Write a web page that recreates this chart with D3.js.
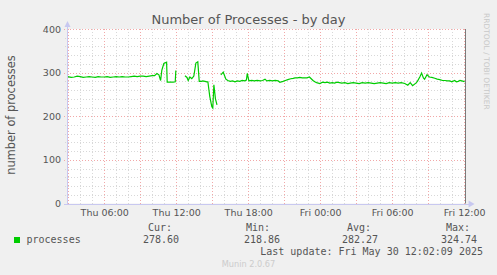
<!DOCTYPE html>
<html>
<head>
<meta charset="utf-8">
<script src="https://cdn.jsdelivr.net/npm/d3@7"></script>
<style>
  html, body { margin: 0; padding: 0; background: #f0f0f0; }
  svg { display: block; }
</style>
</head>
<body>
<div id="chart"></div>
<script>
// hours counted from Thu 29 May 00:00, null marks a gap (unknown)
const hours = [
  2.95, 3.25, 3.5, 3.75, 4, 4.25, 4.5, 4.75, 5, 5.25, 5.5, 5.75, 6, 6.25, 6.5, 6.75,
  7, 7.25, 7.5, 7.75, 8, 8.25, 8.5, 8.75, 9, 9.25, 9.5, 9.75, 10, 10.2, 10.39, 10.56,
  10.7, 10.8, 10.97, 11.2, 11.25, 11.5, 11.75, 11.92, 11.97, 12.05, 12.73, 12.9, 13.0,
  13.14, 13.3, 13.47, 13.64, 13.8, 13.92, 14.1, 14.22, 14.4, 14.55, 14.64, 14.72, 14.8,
  14.97, 15.05, 15.14, 15.27, 15.4, 15.5, 15.72, 15.92, 16.14, 16.3, 16.5, 16.7, 16.9,
  17.1, 17.3, 17.5, 17.7, 17.85, 17.92, 18.06, 18.3, 18.5, 18.75, 19.0, 19.2, 19.4,
  19.55, 19.8, 20.0, 20.25, 20.5, 20.64, 20.9, 21.1, 21.3, 21.55, 21.75, 21.9, 22.1,
  22.3, 22.5, 22.7, 22.9, 23.1, 23.25, 23.4, 23.55, 23.7, 23.97, 24.2, 24.4, 24.6, 24.8,
  25.0, 25.2, 25.4, 25.6, 25.8, 26.05, 26.3, 26.5, 26.75, 27.0, 27.25, 27.5, 27.75, 28.0,
  28.25, 28.5, 28.75, 29.0, 29.25, 29.5, 29.75, 30.0, 30.25, 30.5, 30.75, 31.05, 31.3,
  31.5, 31.7, 31.97, 32.1, 32.3, 32.45, 32.6, 32.7, 32.9, 33.1, 33.3, 33.55, 33.75,
  33.97, 34.2, 34.4, 34.6, 34.8, 34.97, 35.2, 35.35, 35.5, 35.65, 35.8, 35.95, 36.03
];
const processes = [
  291, 289, 290, 292, 291, 289, 290, 291, 290, 289, 291, 290, 290, 291, 289, 290,
  291, 290, 291, 290, 290, 291, 292, 291, 292, 292, 291, 292, 293, 293, 298, 295,
  282, 305, 321, 324, 278, 278, 278, 279, 305, null, 293, 289, 282,
  290, 286, 292, 322, 324.7, 280, 280, 281, 280, 279, 279, 262, 245,
  222, 219, 272, 240, 226, null, 295, 301, 285, 282, 280, 281, 279,
  281, 280, 282, 281, 283, 298, 281, 282, 281, 282, 281, 282, 285,
  281, 282, 281, 282, 281, 278, 280, 282, 284, 286, 287, 288, 288,
  289, 288, 288, 288, 290, 286, 282, 279, 277, 275, 278, 277, 278, 276,
  277, 276, 278, 277, 276, 277, 275, 276, 277, 276, 275, 277, 276, 277,
  276, 275, 276, 277, 276, 275, 277, 276, 277, 276, 277, 275, 271,
  277, 270, 276, 280, 290, 299, 288, 285, 295, 290, 289, 287, 285,
  284, 282, 282, 281, 281, 279, 282, 279, 280, 282, 281, 280, 279
];
const yTicks = [0, 100, 200, 300, 400];
const legendHeads = ["Cur:", "Min:", "Avg:", "Max:"];
const legendValues = ["278.60", "218.86", "282.27", "324.74"];

const width = 497, height = 275;
const plot = {left: 67, right: 467, top: 29, bottom: 203.5};

const day0 = Date.UTC(2025, 4, 29);
const toDate = h => new Date(day0 + h * 3600e3);
const data = hours.map((h, i) => ({t: toDate(h), v: processes[i]}));

const svg = d3.select("#chart").append("svg")
  .attr("width", width).attr("height", height)
  .style("font-family", "'DejaVu Sans', sans-serif");

svg.append("rect").attr("width", width).attr("height", height).attr("fill", "#f0f0f0");

// 400 px * 5 min
const start = toDate(2.9);
const end = new Date(+start + 400 * 300e3);
const x = d3.scaleUtc().domain([start, end]).range([plot.left, plot.right]);
const y = d3.scaleLinear().domain([0, 400]).range([plot.bottom, plot.top]);

const plotRight = x(toDate(36.03)) + 1;
svg.append("rect")
  .attr("x", plot.left).attr("y", plot.top)
  .attr("width", plotRight - plot.left).attr("height", plot.bottom - plot.top)
  .attr("fill", "#fff");

// grid
const hourTicks = d3.utcHour.every(1).range(start, toDate(36.2));
const minorY = d3.range(0, 401, 20);
const grid = svg.append("g").attr("shape-rendering", "crispEdges");
grid.selectAll("line.vmin").data(hourTicks.filter(d => d.getUTCHours() % 3 !== 0))
  .join("line")
  .attr("x1", d => Math.round(x(d)) + 0.5).attr("x2", d => Math.round(x(d)) + 0.5)
  .attr("y1", plot.top).attr("y2", plot.bottom + 2)
  .attr("stroke", "#d8d8d8").attr("stroke-dasharray", "1,2");
grid.selectAll("line.hmin").data(minorY.filter(d => d % 100 !== 0))
  .join("line")
  .attr("x1", plot.left - 2).attr("x2", plotRight)
  .attr("y1", d => Math.round(y(d)) + 0.5).attr("y2", d => Math.round(y(d)) + 0.5)
  .attr("stroke", "#d8d8d8").attr("stroke-dasharray", "1,2");
grid.selectAll("line.vmaj").data(hourTicks.filter(d => d.getUTCHours() % 3 === 0))
  .join("line")
  .attr("x1", d => Math.round(x(d)) + 0.5).attr("x2", d => Math.round(x(d)) + 0.5)
  .attr("y1", plot.top).attr("y2", plot.bottom + 3)
  .attr("stroke", "#f2a8a8").attr("stroke-dasharray", "1,2");
grid.selectAll("line.hmaj").data(yTicks)
  .join("line")
  .attr("x1", plot.left - 3).attr("x2", plotRight)
  .attr("y1", d => Math.round(y(d)) + 0.5).attr("y2", d => Math.round(y(d)) + 0.5)
  .attr("stroke", "#f2a8a8").attr("stroke-dasharray", "1,2");

// data line
const line = d3.line()
  .defined(d => d.v != null)
  .x(d => x(d.t))
  .y(d => y(d.v));
svg.append("path").datum(data)
  .attr("d", line)
  .attr("fill", "none")
  .attr("stroke", "#00cc00")
  .attr("stroke-width", 1.2);

// right edge marker
svg.append("line")
  .attr("x1", Math.round(plotRight) - 0.5).attr("x2", Math.round(plotRight) - 0.5)
  .attr("y1", plot.top).attr("y2", plot.bottom)
  .attr("stroke", "#7a7a7a").attr("stroke-width", 1);

// axes
const axisCol = "#c8c8f0";
svg.append("line")
  .attr("x1", plot.left + 0.5).attr("x2", plot.left + 0.5)
  .attr("y1", plot.top - 3).attr("y2", plot.bottom + 1)
  .attr("stroke", axisCol);
svg.append("line")
  .attr("x1", plot.left - 3).attr("x2", plotRight + 4)
  .attr("y1", Math.round(plot.bottom) + 0.5).attr("y2", Math.round(plot.bottom) + 0.5)
  .attr("stroke", axisCol);
svg.append("path")
  .attr("d", `M${plot.left - 2.5},${plot.top - 2} L${plot.left + 0.5},${plot.top - 8} L${plot.left + 3.5},${plot.top - 2} Z`)
  .attr("fill", axisCol);
svg.append("path")
  .attr("d", `M${plotRight + 3},${plot.bottom - 3} L${plotRight + 9},${plot.bottom + 0.5} L${plotRight + 3},${plot.bottom + 4} Z`)
  .attr("fill", axisCol);

// tick labels
const yAxis = d3.axisLeft(y).tickValues(yTicks).tickSize(0).tickPadding(6);
const gy = svg.append("g").attr("transform", `translate(${plot.left},0)`).call(yAxis);
gy.select(".domain").remove();
gy.selectAll("text").attr("fill", "#555").style("font-size", "9.5px")
  .style("font-family", "'DejaVu Sans', sans-serif");

const xAxis = d3.axisBottom(x)
  .tickValues(hourTicks.filter(d => d.getUTCHours() % 6 === 0))
  .tickFormat(d3.utcFormat("%a %H:%M"))
  .tickSize(0).tickPadding(6);
const gx = svg.append("g").attr("transform", `translate(0,${plot.bottom})`).call(xAxis);
gx.select(".domain").remove();
gx.selectAll("text").attr("fill", "#555").style("font-size", "9.5px")
  .style("font-family", "'DejaVu Sans', sans-serif");

// titles
svg.append("text")
  .attr("x", 248.5).attr("y", 23.5)
  .attr("text-anchor", "middle")
  .attr("fill", "#555").style("font-size", "13px")
  .text("Number of Processes - by day");
svg.append("text")
  .attr("transform", "translate(14.5,115) rotate(-90)")
  .attr("text-anchor", "middle")
  .attr("fill", "#555").style("font-size", "11.4px")
  .text("number of processes");
svg.append("text")
  .attr("transform", "translate(484,13) rotate(90)")
  .attr("text-anchor", "start")
  .attr("fill", "#c8c8c8").style("font-size", "7.5px")
  .text("RRDTOOL / TOBI OETIKER");

// legend
const mono = "'DejaVu Sans Mono', monospace";
const colX = [172, 270, 371, 470];
const valX = [179, 280, 378, 477];
svg.append("rect")
  .attr("x", 14).attr("y", 237).attr("width", 6).attr("height", 6)
  .attr("fill", "#00cc00");
svg.append("text")
  .attr("x", 26.5).attr("y", 243.3)
  .attr("fill", "#555").style("font-family", mono).style("font-size", "10px")
  .text("processes");
svg.selectAll("text.head").data(legendHeads).join("text")
  .attr("x", (d, i) => colX[i]).attr("y", 231)
  .attr("text-anchor", "end")
  .attr("fill", "#555").style("font-family", mono).style("font-size", "10px")
  .text(d => d);
svg.selectAll("text.val").data(legendValues).join("text")
  .attr("x", (d, i) => valX[i]).attr("y", 243.3)
  .attr("text-anchor", "end")
  .attr("fill", "#555").style("font-family", mono).style("font-size", "10px")
  .text(d => d);
svg.append("text")
  .attr("x", 483).attr("y", 255)
  .attr("text-anchor", "end")
  .attr("fill", "#555").style("font-family", mono).style("font-size", "10px")
  .text("Last update: Fri May 30 12:02:09 2025");
svg.append("text")
  .attr("x", 248.5).attr("y", 266.5)
  .attr("text-anchor", "middle")
  .attr("fill", "#cccccc").style("font-size", "8.2px")
  .text("Munin 2.0.67");
</script>
</body>
</html>
